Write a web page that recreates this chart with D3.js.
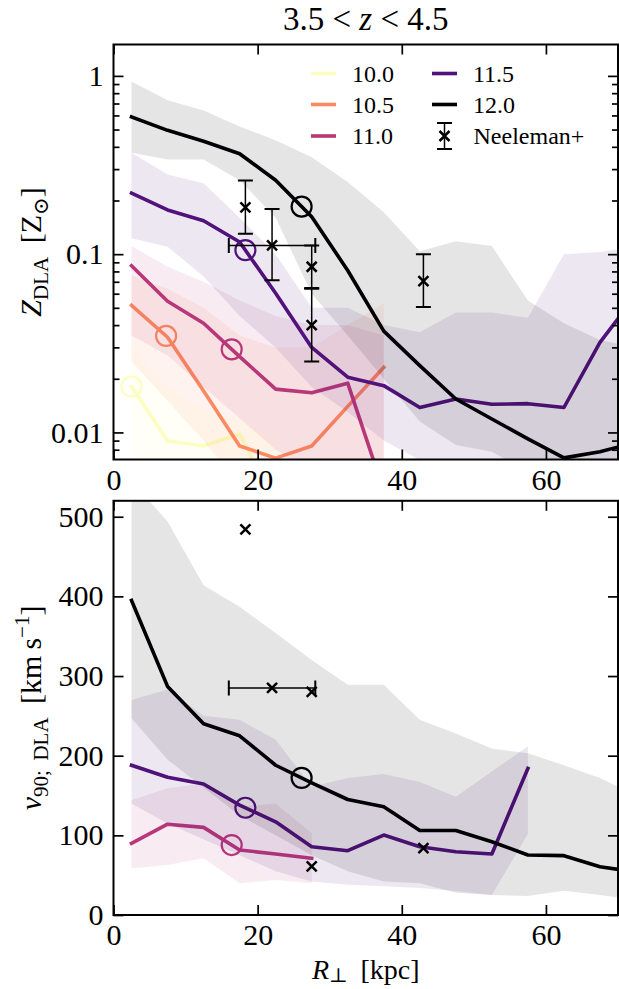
<!DOCTYPE html>
<html>
<head>
<meta charset="utf-8">
<script src="https://cdn.jsdelivr.net/npm/d3@7"></script>
<style>
    body { margin: 0; background: #fff; }
    svg text { font-family: 'Liberation Serif', 'DejaVu Serif', serif; fill: #000; }
</style>
</head>
<body>
<svg id="chart" width="619" height="989"></svg>
<script>

// radial bins (kpc)
const rBins = [2.5, 7.5, 12.5, 17.5, 22.5, 27.5, 32.5, 37.5, 42.5, 47.5, 52.5, 57.5, 62.5, 67.5, 72.5]

// halo masses (log M) and virial radii marked with open circles
const masses = ['10.0', '10.5', '11.0', '11.5', '12.0']
const rVir = [2.5, 7.3, 16.4, 18.3, 26.1]

// metallicity Z_DLA [Z_sun]: median, lower and upper percentile
const zMed100 = [0.0181, 0.00895, 0.0084, 0.0098, 0.0039]
const zLo100 = [0.005, 0.004, 0.004, 0.004, 0.003]
const zHi100 = [0.03, 0.018, 0.0135, 0.012, 0.009]

const zMed105 = [0.0516, 0.0342, 0.0171, 0.0084, 0.00718, 0.0084, 0.014, 0.0232]
const zLo105 = [0.025, 0.015, 0.009, 0.005, 0.004, 0.004, 0.004, 0.005]
const zHi105 = [0.076, 0.064, 0.05, 0.035, 0.03, 0.03, 0.04, 0.053]

const zMed110 = [0.086, 0.0544, 0.041, 0.0266, 0.0175, 0.0167, 0.0189, 0.0047]
const zLo110 = [0.035, 0.027, 0.018, 0.012, 0.008, 0.006, 0.005, 0.003]
const zHi110 = [0.111, 0.085, 0.07, 0.055, 0.045, 0.04, 0.04, 0.035]

const zMed115 = [0.22, 0.177, 0.154, 0.117, 0.0603, 0.030, 0.0204, 0.0183, 0.0138, 0.0154, 0.0144, 0.0145, 0.0138, 0.032, 0.059]
const zLo115 = [0.123, 0.11, 0.075, 0.045, 0.03, 0.018, 0.013, 0.009, 0.007, 0.005, 0.005, 0.005, 0.005, 0.005, 0.005]
const zHi115 = [0.37, 0.28, 0.25, 0.16, 0.1, 0.05, 0.05, 0.04, 0.0365, 0.047, 0.047, 0.044, 0.1, 0.103, 0.11]

const zMed120 = [0.589, 0.495, 0.43, 0.366, 0.26, 0.162, 0.081, 0.037, 0.0237, 0.0154, 0.0119, 0.0092, 0.0072, 0.0078, 0.0088]
const zLo120 = [0.37, 0.34, 0.34, 0.26, 0.16, 0.06, 0.035, 0.02, 0.0115, 0.0085, 0.0078, 0.006, 0.005, 0.005, 0.005]
const zHi120 = [0.93, 0.73, 0.64, 0.52, 0.435, 0.35, 0.254, 0.172, 0.104, 0.118, 0.111, 0.055, 0.041, 0.033, 0.03]

// velocity width v90 [km/s] (no data for the two lowest masses)
const vMed110 = [90, 114, 110, 81.6, 76.6, 71.2]
const vLo110 = [58.6, 62.8, 71.2, 39.8, 43.9, 39.8]
const vHi110 = [144, 159, 165, 136, 140, 102.5]

const vMed115 = [188, 173, 164.5, 138, 117, 85.7, 80.7, 100.4, 85.7, 79.5, 76.6, 184]
const vLo115 = [140, 115, 95, 75, 55, 42, 38, 36, 34, 30, 25, 102]
const vHi115 = [270, 283, 250, 245, 220, 161, 172, 177, 167, 148.5, 180, 212]

const vMed120 = [395, 287, 240, 225, 188, 166, 145, 136, 106, 106, 92, 75.3, 74.5, 60.6, 54]
const vLo120 = [247, 195, 160, 125, 100, 75, 55, 42, 40, 28, 25, 24, 30.5, 25, 19]
const vHi120 = [545, 494, 414, 387, 354, 320, 289, 289, 245, 228, 209, 203, 188, 172, 150]

// Neeleman+ observations
const neeR = [18.3, 22.0, 27.5, 27.5, 43.0]
const neeRerr = [0, 6.0, 0, 0, 0]
const neeZ = [0.183, 0.112, 0.085, 0.040, 0.0705]
const neeZlo = [0.130, 0.0714, 0.064, 0.025, 0.0505]
const neeZhi = [0.259, 0.179, 0.112, 0.0645, 0.100]
const neeV = [484, 285, 280, 61, 84]

const xTicks = [0, 20, 40, 60]
const zTicks = [0.01, 0.1, 1]
const vTicks = [0, 100, 200, 300, 400, 500]

const colors = masses.map((m, i) => d3.interpolateMagma(1 - i / 4))

const font = "'Liberation Serif', 'DejaVu Serif', serif"
const tickFont = '30px'
const labelFont = '30px'
const subFont = '21px'

function makeSeries(med, lo, hi) {
    return med.map((v, i) => ({ r: rBins[i], med: v, lo: lo[i], hi: hi[i] }))
}

const zSeries = [
    makeSeries(zMed100, zLo100, zHi100),
    makeSeries(zMed105, zLo105, zHi105),
    makeSeries(zMed110, zLo110, zHi110),
    makeSeries(zMed115, zLo115, zHi115),
    makeSeries(zMed120, zLo120, zHi120)
]
const vSeries = [
    null,
    null,
    makeSeries(vMed110, vLo110, vHi110),
    makeSeries(vMed115, vLo115, vHi115),
    makeSeries(vMed120, vLo120, vHi120)
]

const left = 113.5, right = 618

const x = d3.scaleLinear().domain([0, 70]).range([left, right])
const yZ = d3.scaleLog().domain([0.00705, 1.5]).range([459.5, 44.5])
const yV = d3.scaleLinear().domain([0, 520]).range([915, 500.8])

const svg = d3.select('#chart')

// value of a series at radius r (linear in log space for the log panel)
function interpAt(series, r, isLog) {
    let i = d3.bisector(d => d.r).right(series, r) - 1
    i = Math.max(0, Math.min(series.length - 2, i))
    let a = series[i], b = series[i + 1]
    let t = (r - a.r) / (b.r - a.r)
    if (isLog) return Math.exp(Math.log(a.med) * (1 - t) + Math.log(b.med) * t)
    return a.med * (1 - t) + b.med * t
}

function drawPanel(id, y, seriesList, isLog, obsY, obsLo, obsHi) {

    let [bottom, top] = y.range()

    svg.append('clipPath')
        .attr('id', 'clip-' + id)
        .append('rect')
        .attr('x', left).attr('y', top)
        .attr('width', right - left).attr('height', bottom - top)

    let g = svg.append('g').attr('clip-path', `url(#clip-${id})`)

    let area = d3.area().x(d => x(d.r)).y0(d => y(d.lo)).y1(d => y(d.hi))
    let line = d3.line().x(d => x(d.r)).y(d => y(d.med))

    seriesList.forEach((s, i) => {
        if (!s) return
        g.append('path')
            .attr('d', area(s))
            .attr('fill', colors[i])
            .attr('fill-opacity', 0.1)

        g.append('path')
            .attr('d', line(s))
            .attr('fill', 'none')
            .attr('stroke', colors[i])
            .attr('stroke-width', 3.6)
            .attr('stroke-linejoin', 'round')
            .attr('stroke-linecap', 'square')

        g.append('circle')
            .attr('cx', x(rVir[i]))
            .attr('cy', y(interpAt(s, rVir[i], isLog)))
            .attr('r', 10)
            .attr('fill', 'none')
            .attr('stroke', colors[i])
            .attr('stroke-width', 2.2)
    })

    // observations with error bars
    let obs = g.append('g').attr('stroke', '#000').attr('fill', 'none')
    neeR.forEach((r, i) => {
        let cx = x(r), cy = y(obsY[i])
        if (obsLo) {
            let y0 = y(obsLo[i]), y1 = y(obsHi[i])
            obs.append('line').attr('x1', cx).attr('x2', cx).attr('y1', y0).attr('y2', y1).attr('stroke-width', 1.5)
            obs.append('line').attr('x1', cx - 7.5).attr('x2', cx + 7.5).attr('y1', y0).attr('y2', y0).attr('stroke-width', 2)
            obs.append('line').attr('x1', cx - 7.5).attr('x2', cx + 7.5).attr('y1', y1).attr('y2', y1).attr('stroke-width', 2)
        }
        if (neeRerr[i] > 0) {
            let x0 = x(r - neeRerr[i]), x1 = x(r + neeRerr[i])
            obs.append('line').attr('x1', x0).attr('x2', x1).attr('y1', cy).attr('y2', cy).attr('stroke-width', 1.5)
            obs.append('line').attr('x1', x0).attr('x2', x0).attr('y1', cy - 7.5).attr('y2', cy + 7.5).attr('stroke-width', 2)
            obs.append('line').attr('x1', x1).attr('x2', x1).attr('y1', cy - 7.5).attr('y2', cy + 7.5).attr('stroke-width', 2)
        }
        obs.append('path')
            .attr('d', `M${cx - 5},${cy - 5}L${cx + 5},${cy + 5}M${cx - 5},${cy + 5}L${cx + 5},${cy - 5}`)
            .attr('stroke-width', 2.5)
    })
}

function styleAxis(g) {
    g.select('.domain').remove()
    g.selectAll('.tick line').attr('stroke', '#000').attr('stroke-width', 1.7)
    g.selectAll('.tick text')
        .style('font-family', font)
        .style('font-size', tickFont)
        .attr('fill', '#000')
}

function drawAxes(y, majors, minors, fmt) {

    let [bottom, top] = y.range()

    svg.append('g').attr('transform', `translate(${left},0)`)
        .call(d3.axisLeft(y).tickValues(majors).tickSize(-10).tickPadding(10).tickFormat(fmt))
        .call(styleAxis)

    svg.append('g').attr('transform', `translate(${right},0)`)
        .call(d3.axisRight(y).tickValues(majors).tickSize(-10).tickFormat(''))
        .call(styleAxis)

    if (minors.length) {
        svg.append('g').attr('transform', `translate(${left},0)`)
            .call(d3.axisLeft(y).tickValues(minors).tickSize(-6).tickFormat(''))
            .call(styleAxis)
        svg.append('g').attr('transform', `translate(${right},0)`)
            .call(d3.axisRight(y).tickValues(minors).tickSize(-6).tickFormat(''))
            .call(styleAxis)
    }

    svg.append('g').attr('transform', `translate(0,${bottom})`)
        .call(d3.axisBottom(x).tickValues(xTicks).tickSize(-10).tickPadding(9).tickFormat(d3.format('d')))
        .call(styleAxis)

    svg.append('g').attr('transform', `translate(0,${top})`)
        .call(d3.axisTop(x).tickValues(xTicks).tickSize(-10).tickFormat(''))
        .call(styleAxis)

    svg.append('rect')
        .attr('x', left).attr('y', top)
        .attr('width', right - left).attr('height', bottom - top)
        .attr('fill', 'none')
        .attr('stroke', '#000')
        .attr('stroke-width', 2)
}

// minor ticks of the log axis
let zMinor = []
;[0.001, 0.01, 0.1, 1].forEach(dec => {
    for (let k = 2; k <= 9; k++) {
        let v = dec * k
        let [lo, hi] = yZ.domain()
        if (v > lo && v < hi) zMinor.push(v)
    }
})

drawPanel('z', yZ, zSeries, true, neeZ, neeZlo, neeZhi)
drawAxes(yZ, zTicks, zMinor, d => d >= 1 ? '1' : String(d))

drawPanel('v', yV, vSeries, false, neeV, null, null)
drawAxes(yV, vTicks, [], d3.format('d'))

// title
let title = svg.append('text')
    .attr('x', (left + right) / 2)
    .attr('y', 30)
    .attr('text-anchor', 'middle')
    .style('font-size', '33px')
title.append('tspan').text('3.5 < ')
title.append('tspan').attr('font-style', 'italic').text('z')
title.append('tspan').text(' < 4.5')

// axis labels
let zLabel = svg.append('text')
    .attr('transform', `translate(41,${(44.5 + 459.5) / 2}) rotate(-90)`)
    .attr('text-anchor', 'middle')
    .style('font-size', labelFont)
zLabel.append('tspan').attr('font-style', 'italic').text('Z')
zLabel.append('tspan').attr('dy', 7).style('font-size', subFont).text('DLA')
zLabel.append('tspan').attr('dy', -7).text('\u2009 [Z')
zLabel.append('tspan').attr('dy', 7).style('font-size', subFont).text('\u2299')
zLabel.append('tspan').attr('dy', -7).text(']')

let vLabel = svg.append('text')
    .attr('transform', `translate(41,${(500.8 + 915) / 2}) rotate(-90)`)
    .attr('text-anchor', 'middle')
    .style('font-size', labelFont)
vLabel.append('tspan').attr('font-style', 'italic').text('v')
vLabel.append('tspan').attr('dy', 7).style('font-size', subFont).text('90;\u2009 DLA')
vLabel.append('tspan').attr('dy', -7).text('\u2009 [km\u2009s')
vLabel.append('tspan').attr('dy', -12).style('font-size', subFont).text('\u22121')
vLabel.append('tspan').attr('dy', 12).text(']')

let xLabel = svg.append('text')
    .attr('x', (left + right) / 2)
    .attr('y', 979)
    .attr('text-anchor', 'middle')
    .style('font-size', '28px')
xLabel.append('tspan').attr('font-style', 'italic').text('R')
xLabel.append('tspan').attr('dy', 3).style('font-size', '20px').text('\u22a5')
xLabel.append('tspan').attr('dy', -3).text('\u2009 [kpc]')

// legend, two columns
let legendRows = [73.5, 104.5, 136]
let legend = svg.append('g')
masses.forEach((m, i) => {
    let col = i < 3 ? 0 : 1
    let row = i < 3 ? i : i - 3
    let hx = col === 0 ? 311 : 432
    let ly = legendRows[row]
    legend.append('line')
        .attr('x1', hx).attr('x2', hx + 25)
        .attr('y1', ly).attr('y2', ly)
        .attr('stroke', colors[i])
        .attr('stroke-width', 3.6)
    legend.append('text')
        .attr('x', hx + 41)
        .attr('y', ly + 8)
        .style('font-size', '24px')
        .text(m)
})
{
    let cx = 444.5, ly = legendRows[2]
    let e = legend.append('g').attr('stroke', '#000').attr('fill', 'none')
    e.append('line').attr('x1', cx).attr('x2', cx).attr('y1', ly - 13).attr('y2', ly + 13).attr('stroke-width', 1.5)
    e.append('line').attr('x1', cx - 7.5).attr('x2', cx + 7.5).attr('y1', ly - 13).attr('y2', ly - 13).attr('stroke-width', 2)
    e.append('line').attr('x1', cx - 7.5).attr('x2', cx + 7.5).attr('y1', ly + 13).attr('y2', ly + 13).attr('stroke-width', 2)
    e.append('path')
        .attr('d', `M${cx - 5},${ly - 5}L${cx + 5},${ly + 5}M${cx - 5},${ly + 5}L${cx + 5},${ly - 5}`)
        .attr('stroke-width', 2.5)
    legend.append('text')
        .attr('x', 473.5)
        .attr('y', ly + 8)
        .style('font-size', '24px')
        .text('Neeleman+')
}

</script>
</body>
</html>
